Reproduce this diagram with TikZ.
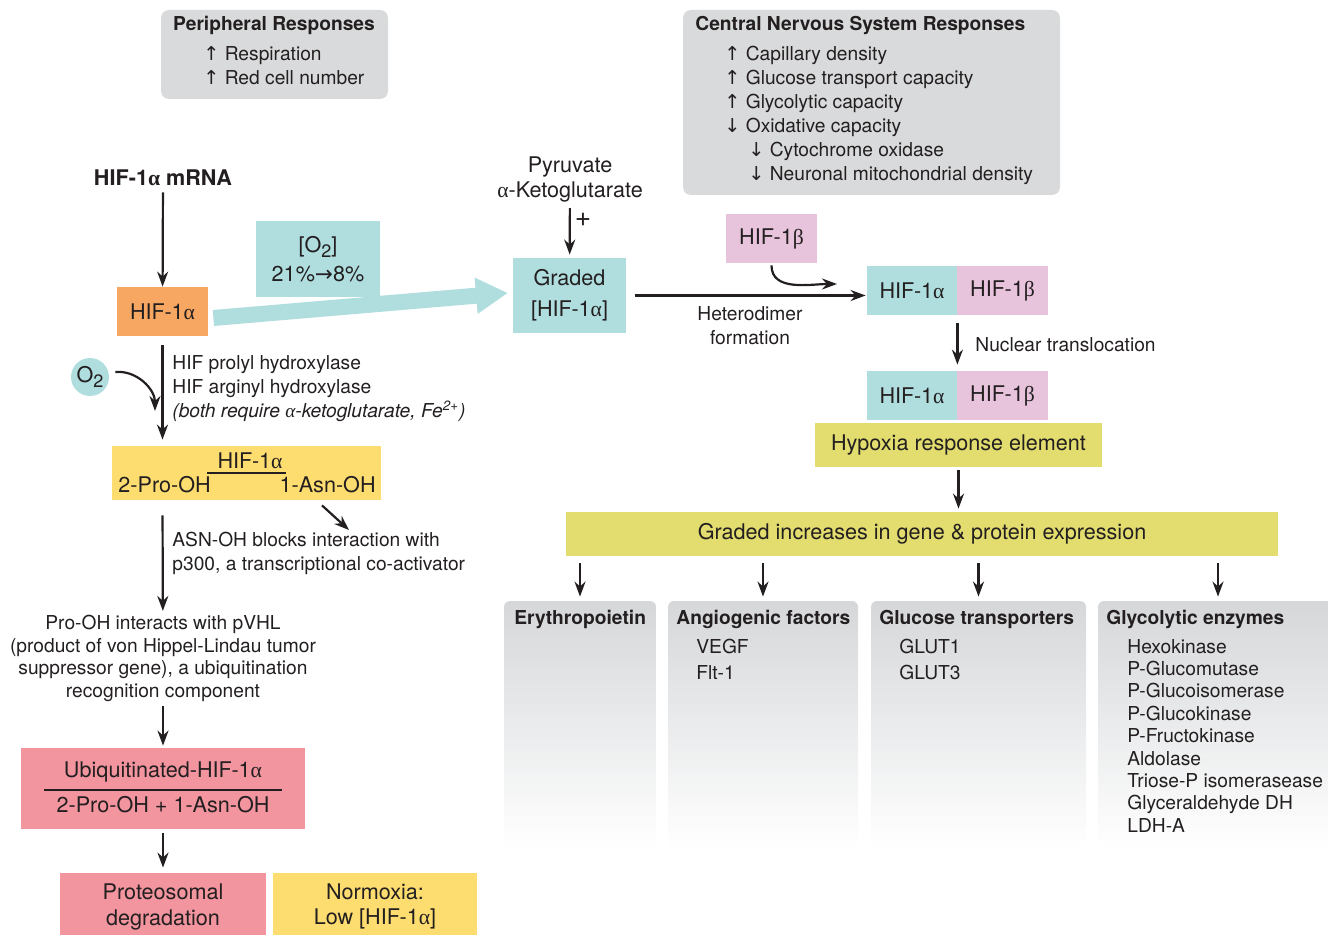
\documentclass[tikz,border=0pt]{standalone}
\usepackage{fontspec}
\setmainfont{TeX Gyre Heros}
\newfontfamily\grk{Liberation Serif}
\newfontfamily\arrowfont{DejaVu Sans}
\usepackage{tikz}
\usetikzlibrary{arrows.meta}
\definecolor{hifor}{HTML}{F7A762}
\definecolor{hifcy}{HTML}{B0DEDF}
\definecolor{hifpk}{HTML}{E8C3DC}
\definecolor{hreyl}{HTML}{E2DD6E}
\definecolor{hydyl}{HTML}{FEDD70}
\definecolor{ubqpk}{HTML}{F2959F}
\definecolor{respgr}{HTML}{D9DADB}
\definecolor{colgr}{HTML}{D5D7D9}
\definecolor{ink}{HTML}{231F20}
\newcommand{\al}{{\grk α}}
\newcommand{\be}{{\grk β}}
\newcommand{\up}{{\arrowfont ↑}}
\newcommand{\dn}{{\arrowfont ↓}}

\tikzset{
  sm/.style={font=\fontsize{9.6}{12}\selectfont, inner sep=0pt, text=ink},
  smb/.style={sm, font=\fontsize{9.6}{12}\selectfont\bfseries},
  item/.style={sm, anchor=west, text height=9pt, text depth=2pt},
  lg/.style={font=\fontsize{10.8}{12.5}\selectfont, inner sep=0pt, text=ink},
  lgb/.style={lg, font=\fontsize{10.8}{12.5}\selectfont\bfseries},
  tile/.style={lg, align=center},
  panel/.style={rounded corners=3pt, top color=colgr, bottom color=white, inner sep=0pt},
  arr/.style={-{Stealth[length=7.5pt,width=5.5pt]}, line width=1.1pt, ink},
  bigarr/.style={-{Triangle[length=16pt,width=17pt]}, line width=8pt, hifcy},
}

\begin{document}
\begin{tikzpicture}[x=0.5pt,y=-0.5pt]
    \useasboundingbox (0,0) rectangle (1328,935);

    % response boxes
    \fill[respgr, rounded corners=4pt] (161,10) rectangle (388,99);
    \node[smb] (periph) at (274,25) {Peripheral Responses};
    \foreach \y/\tag in {54/Respiration, 78/Red cell number}
        \node[item] at (203,\y) {\up\ \tag};

    \fill[respgr, rounded corners=4pt] (683,10) rectangle (1060,195);
    \node[smb, anchor=west] (cns) at (695,25) {Central Nervous System Responses};
    \foreach \x/\y/\tag in {
        724/54/\up\ Capillary density,
        724/78/\up\ Glucose transport capacity,
        724/102/\up\ Glycolytic capacity,
        724/126/\dn\ Oxidative capacity,
        748/150/\dn\ Cytochrome oxidase,
        748/174/\dn\ Neuronal mitochondrial density
    }
        \node[item] at (\x,\y) {\tag};

    % left column
    \node[lgb] (mrna) at (163,178) {HIF-1\al\ mRNA};
    \node[tile, fill=hifor, minimum width=45.5pt, minimum height=24.5pt] (hifa) at (162.5,311.5) {HIF-1\al};
    \draw[bigarr] ([xshift=2.5pt,yshift=-3.25pt]hifa.east) -- (508,293);
    \node[tile, fill=hifcy, minimum width=62pt, minimum height=38pt] (o2box) at (318,259) {{[O\raisebox{-2.5pt}{\small 2}]}\\[2pt]21\%{\arrowfont →}8\%};
    \draw[arr, shorten <=3pt] (mrna) -- (hifa);

    \node[lg, circle, fill=hifcy, minimum size=19pt] (o2) at (90,377) {O\raisebox{-2.5pt}{\small 2}};
    \coordinate (o2in) at (155,411);
    \node[sm, align=left, anchor=west] (hydx) at (172,389) {HIF prolyl hydroxylase\\HIF arginyl hydroxylase\\\textit{(both require \al-ketoglutarate, Fe\textsuperscript{2+})}};

    \node[lg, fill=hydyl, minimum width=134.5pt, minimum height=27pt] (hyd) at (246.5,473) {};
    \node[lg] (hydt) at (250,461) {HIF-1\al};
    \draw[ink, line width=0.8pt] (207,473) -- (286,473);
    \node[lg, anchor=west] (pro) at (118,485) {2-Pro-OH};
    \node[lg, anchor=east] (asn) at (376,485) {1-Asn-OH};
    \draw[arr, shorten <=4.5pt, shorten >=3pt] (hifa.south) -- (hifa.south |- hyd.north);
    \draw[arr] ([xshift=3pt,yshift=2.5pt]o2.east) to[out=5,in=90] (o2in);

    \coordinate (asnend) at (349,530);
    \draw[arr] ([xshift=37.75pt,yshift=-2.5pt]hyd.south) -- (asnend);
    \node[sm, align=left, anchor=west] (p300) at (172,553) {ASN-OH blocks interaction with\\p300, a transcriptional co-activator};

    \node[sm, align=center, font=\fontsize{9.6}{11.3}\selectfont] (pvhl) at (163,658.5) {Pro-OH interacts with pVHL\\(product of von Hippel-Lindau tumor\\suppressor gene), a ubiquitination\\recognition component};
    \draw[arr, shorten <=7.5pt, shorten >=2pt] (hyd.south -| hifa) -- (pvhl);

    \node[lg, fill=ubqpk, minimum width=142pt, minimum height=40.5pt] (ubq) at (163,788.5) {};
    \node[lg] (ubqt) at (163,772) {Ubiquitinated-HIF-1\al};
    \draw[ink, line width=0.8pt] (44,790) -- (282,790);
    \node[lg] (ubqb) at (163,805) {2-Pro-OH + 1-Asn-OH};
    \draw[arr, shorten <=2pt, shorten >=1pt] (pvhl) -- (ubq);

    \node[tile, fill=ubqpk, minimum width=103pt, minimum height=33.5pt] (prot) at (163,906.5) {Proteosomal\\[0.5pt]degradation};
    \node[tile, fill=hydyl, minimum width=102pt, minimum height=33.5pt] (norm) at (375,906.5) {Normoxia:\\Low {[HIF-1\al]}};
    \draw[arr, shorten <=2pt, shorten >=2.5pt] (ubq) -- (prot);

    % middle and right
    \node[lg, align=center] (pyr) at (570,179) {Pyruvate\\\al-Ketoglutarate};
    \node[tile, fill=hifcy, minimum width=56.5pt, minimum height=37.5pt] (graded) at (569.5,295.5) {Graded\\[3pt]{[HIF-1\al]}};
    \draw[arr, shorten <=3pt, shorten >=1.5pt] (pyr) -- (graded);
    \node[lg, font=\fontsize{14}{14}\selectfont] (plus) at (583,220) {+};

    \node[tile, fill=hifpk, minimum width=45.5pt, minimum height=24.5pt] (hifb) at (771.5,238.5) {HIF-1\be};
    \node[tile, fill=hifcy, minimum width=45pt, minimum height=24.5pt] (da1) at (912,290.5) {HIF-1\al};
    \node[tile, fill=hifpk, minimum width=45.5pt, minimum height=24.5pt] (db1) at (1002.5,290.5) {HIF-1\be};
    \node[tile, fill=hifcy, minimum width=45pt, minimum height=24.5pt] (da2) at (912,395.5) {HIF-1\al};
    \node[tile, fill=hifpk, minimum width=45.5pt, minimum height=24.5pt] (db2) at (1002.5,395.5) {HIF-1\be};

    \draw[arr, shorten <=4.5pt, shorten >=0.5pt] (graded.east) -- (graded.east -| da1.west);
    \node[sm, align=center] (hetero) at (750,326) {Heterodimer\\formation};
    \coordinate (b1in) at (837,284);
    \draw[arr] ([yshift=-1pt]hifb.south) to[out=-90,in=180] (b1in);

    \draw[arr, shorten <=4pt, shorten >=3pt] (da1.south east) -- (da2.north east);
    \node[sm, anchor=west] (nuc) at (975,345) {Nuclear translocation};

    \node[tile, fill=hreyl, minimum width=143.5pt, minimum height=22pt] (hre) at (958.5,445) {Hypoxia response element};
    \node[tile, fill=hreyl, minimum width=356pt, minimum height=22pt] (grade) at (922,534) {Graded increases in gene \& protein expression};
    \draw[arr, shorten <=1.5pt, shorten >=1.5pt] (hre.south) -- (hre.south |- grade.north);

    % target gene columns
    \node[panel, minimum width=76pt, minimum height=124pt] (pan1) at (580,725) {};
    \node[panel, minimum width=95pt, minimum height=124pt] (pan2) at (763,725) {};
    \node[panel, minimum width=107.5pt, minimum height=124pt] (pan3) at (978.5,725) {};
    \node[panel, minimum width=120pt, minimum height=124pt] (pan4) at (1218,725) {};
    \foreach \p in {pan1,pan2,pan3,pan4}
        \draw[arr, shorten <=3.5pt, shorten >=2pt] (grade.south -| \p.north) -- (\p.north);

    \foreach \x/\tag in {514/Erythropoietin, 676/Angiogenic factors, 879/Glucose transporters, 1106/Glycolytic enzymes}
        \node[smb, anchor=west] at (\x,619) {\tag};
    \foreach \x/\y/\tag in {696/646/VEGF, 696/672/Flt-1, 899/646/GLUT1, 899/672/GLUT3}
        \node[item] at (\x,\y) {\tag};
    \foreach \tag [count=\i from 0] in {Hexokinase, P-Glucomutase, P-Glucoisomerase, P-Glucokinase, P-Fructokinase, Aldolase, Triose-P isomerasease, Glyceraldehyde DH, LDH-A}
        \node[item] at (1127,{646+22.4*\i}) {\tag};

\end{tikzpicture}
\end{document}
